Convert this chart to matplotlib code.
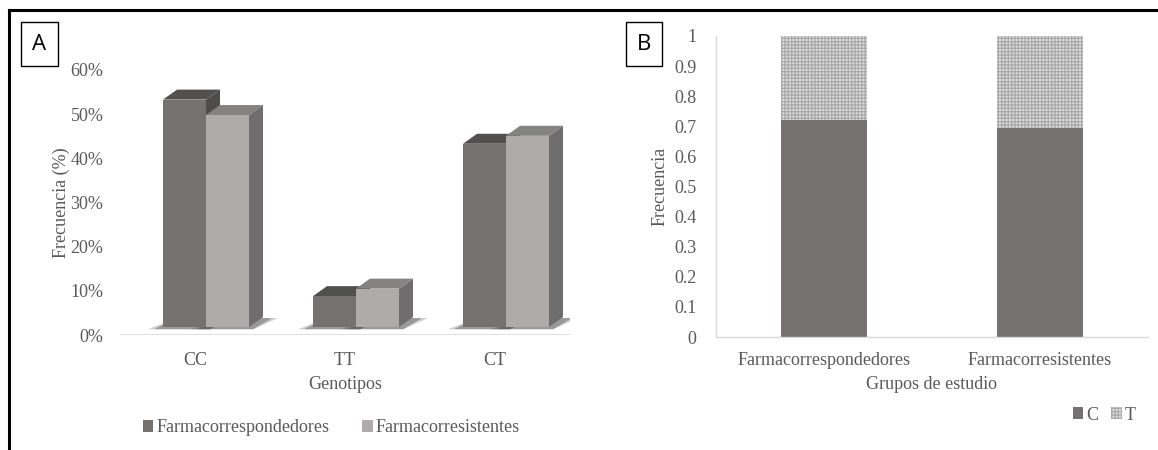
import numpy as np
import matplotlib.pyplot as plt
from matplotlib.patches import Polygon, Rectangle, Patch
from matplotlib.lines import Line2D

# datos
genotipos = ['CC', 'TT', 'CT']
frec_respondedores = [51.5, 7.0, 41.5]
frec_resistentes = [48.0, 8.7, 43.3]

grupos = ['Farmacorrespondedores', 'Farmacorresistentes']
alelo_C = [0.72, 0.695]
alelo_T = [0.28, 0.305]

plt.rcParams['font.family'] = ['Liberation Serif', 'DejaVu Serif']
gris_txt = '#595959'
fs = 13

W, H = 1158, 450
fig = plt.figure(figsize=(W / 100, H / 100), dpi=100)


def fx(px):
    return px / W


def fy(py):
    return 1 - py / H


# marco exterior
fig.add_artist(Line2D([fx(9), 1], [fy(10), fy(10)], color='black', lw=2.2))
fig.add_artist(Line2D([fx(9), fx(9)], [fy(10), 0], color='black', lw=2.2))

# --------------------------
# Panel A: barras 3D simuladas
# --------------------------
axA = fig.add_axes([fx(120), fy(335), fx(570) - fx(120), fy(70) - fy(335)])
axA.set_xlim(-0.5, 2.5)
axA.set_ylim(0, 60)

dx = 14 / 150      # profundidad en x
dy = 10 / 4.417    # profundidad en y
base = 1.8         # el suelo 3D queda algo por encima del eje
w = 43 / 150
off = -32 / 150


def barra3d(ax, x0, h, front, side, top):
    y0, y1 = base, base + h
    # sombra
    for k, a in [(1.0, 0.25), (0.6, 0.35)]:
        ax.add_patch(Polygon([(x0 - 0.1 * k, y0 - 0.5), (x0 + w + dx * 0.3, y0 - 0.5),
                              (x0 + w + dx + 0.1 * k, y0 + dy * 0.9), (x0 + dx, y0 + dy * 0.9)],
                             closed=True, fc='#3a3a3a', ec='none', alpha=a, zorder=1))
    ax.add_patch(Polygon([(x0 + w, y0), (x0 + w + dx, y0 + dy), (x0 + w + dx, y1 + dy), (x0 + w, y1)],
                         closed=True, fc=side, ec='none', zorder=2))
    ax.add_patch(Polygon([(x0, y1), (x0 + w, y1), (x0 + w + dx, y1 + dy), (x0 + dx, y1 + dy)],
                         closed=True, fc=top, ec='none', zorder=2))
    ax.add_patch(Rectangle((x0, y0), w, h, fc=front, ec='none', zorder=3))


for i in range(len(genotipos)):
    barra3d(axA, i + off, frec_respondedores[i], '#767171', '#4f4c4c', '#524f4f')
for i in range(len(genotipos)):
    barra3d(axA, i + off + w, frec_resistentes[i], '#afabab', '#6f6d6d', '#858282')

for s in axA.spines.values():
    s.set_visible(False)
axA.axhline(0, color='#d9d9d9', lw=1.2, zorder=0)
axA.set_xticks(range(len(genotipos)))
axA.set_xticklabels(genotipos)
axA.set_yticks(np.arange(0, 61, 10))
axA.set_yticklabels([f'{v}%' for v in range(0, 61, 10)])
axA.tick_params(length=0, labelsize=fs, colors=gris_txt)
axA.tick_params(axis='x', pad=12)
axA.tick_params(axis='y', pad=12)
axA.set_xlabel('Genotipos', fontsize=fs, color=gris_txt, labelpad=5)
axA.set_ylabel('Frecuencia (%)', fontsize=fs, color=gris_txt, labelpad=0)

hA = [Patch(fc='#767171', ec='none'), Patch(fc='#afabab', ec='none')]
fig.legend(hA, ['Farmacorrespondedores', 'Farmacorresistentes'], loc='center',
           bbox_to_anchor=(fx(331), fy(428)), ncol=2, frameon=False, fontsize=fs,
           labelcolor=gris_txt, handlelength=0.6, handleheight=0.6, handletextpad=0.15,
           columnspacing=1.8)

# --------------------------
# Panel B: barras apiladas
# --------------------------
plt.rcParams['hatch.linewidth'] = 0.9
axB = fig.add_axes([fx(716), fy(337), fx(1148) - fx(716), fy(36) - fy(337)])
xb = np.arange(len(grupos))
axB.bar(xb, alelo_C, width=0.40, color='#767171', label='C', zorder=2)
axB.bar(xb, alelo_T, bottom=alelo_C, width=0.40, color='#dedede', hatch='+++++',
        edgecolor='#a9a9a9', linewidth=0, label='T', zorder=2)
axB.set_xlim(-0.5, 1.5)
axB.set_ylim(0, 1)
axB.set_yticks(np.arange(0, 1.01, 0.1))
axB.set_yticklabels(['0'] + [f'{v:.1f}' for v in np.arange(0.1, 0.95, 0.1)] + ['1'])
axB.set_xticks(xb)
axB.set_xticklabels(grupos)
for k in ['top', 'right']:
    axB.spines[k].set_visible(False)
for k in ['left', 'bottom']:
    axB.spines[k].set_color('#d9d9d9')
    axB.spines[k].set_linewidth(1.0)
axB.tick_params(length=0, labelsize=fs, colors=gris_txt)
axB.tick_params(axis='x', pad=11)
axB.tick_params(axis='y', pad=14)
axB.set_xlabel('Grupos de estudio', fontsize=fs, color=gris_txt, labelpad=5)
axB.set_ylabel('Frecuencia', fontsize=fs, color=gris_txt, labelpad=4)

hB, lB = axB.get_legend_handles_labels()
fig.legend(hB, lB, loc='center', bbox_to_anchor=(fx(1104), fy(415)), ncol=2,
           frameon=False, fontsize=fs, labelcolor=gris_txt, handlelength=0.6,
           handleheight=0.6, handletextpad=0.15, columnspacing=0.7)

# etiquetas de panel
for x0, x1, letra in [(21, 58, 'A'), (626, 662, 'B')]:
    fig.add_artist(Rectangle((fx(x0), fy(66)), fx(x1) - fx(x0), fy(22) - fy(66),
                             transform=fig.transFigure, fc='white', ec='black', lw=1.0))
    fig.text(fx((x0 + x1) / 2), fy(44), letra, ha='center', va='center', fontsize=16,
             family=['Open Sans', 'DejaVu Sans'], color='black')

fig.savefig('out.png', dpi=100)
